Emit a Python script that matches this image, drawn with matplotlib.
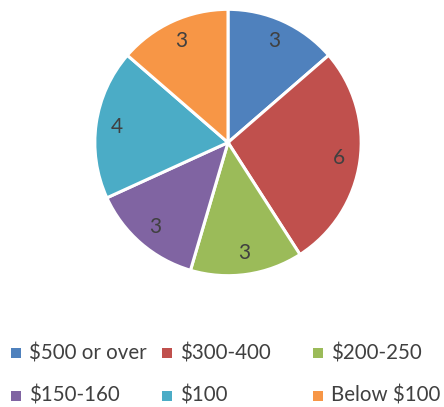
import matplotlib.pyplot as plt

categories = ['$500 or over', '$300-400', '$200-250', '$150-160', '$100', 'Below $100']
counts = [3, 6, 3, 3, 4, 3]
colors = ['#4F81BD', '#C0504D', '#9BBB59', '#8064A2', '#4BACC6', '#F79646']

plt.rcParams['font.family'] = ['Lato', 'DejaVu Sans']
W, H = 444, 407
fig = plt.figure(figsize=(W / 100, H / 100), dpi=100)

# Pie, clockwise from 12 o'clock
ax = fig.add_axes([93.5 / W, 1 - 277 / H, 269 / W, 269 / H])
wedges, texts, autotexts = ax.pie(
    counts,
    colors=colors,
    startangle=90,
    counterclock=False,
    autopct=lambda p: '{:.0f}'.format(p * sum(counts) / 100),
    pctdistance=0.84,
    wedgeprops=dict(edgecolor='white', linewidth=2.2),
    textprops=dict(color='#404040', fontsize=15),
)
ax.set_xlim(-1.01, 1.01)
ax.set_ylim(-1.01, 1.01)
ax.set_aspect('equal')

# Legend laid out in a fixed 3x2 grid like Excel does
lax = fig.add_axes([0, 0, 1, 1])
lax.set_xlim(0, W)
lax.set_ylim(H, 0)
lax.axis('off')
for i, (label, color) in enumerate(zip(categories, colors)):
    col, row = i % 3, i // 3
    x = 16 + col * 151
    y = 353 + row * 43
    lax.scatter([x], [y], marker='s', s=50, color=color, linewidths=0)
    lax.text(x + 13, y, label, fontsize=14.8, color='#404040', va='center', ha='left')

fig.savefig('out.png', dpi=100)
